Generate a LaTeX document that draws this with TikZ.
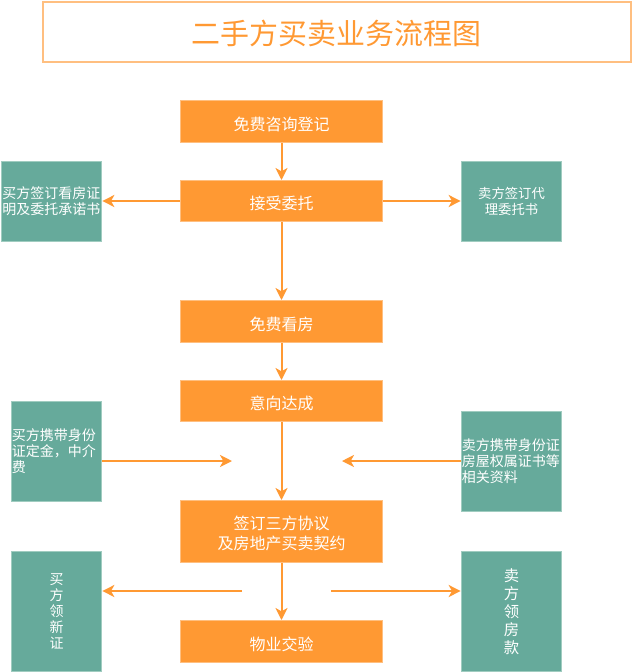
\documentclass[tikz,border=0pt]{standalone}
\usepackage{fontspec}
\setmainfont{Noto Sans CJK SC}
\usepackage{xcolor}
\usetikzlibrary{arrows.meta,positioning,calc}
\definecolor{accent}{HTML}{FF9933}
\definecolor{accentedge}{HTML}{FFBF80}
\definecolor{accent2}{HTML}{66AA9B}
\definecolor{accent2edge}{HTML}{A0CCC0}
\tikzset{
  titlebox/.style={draw=accentedge,line width=1.5pt,fill=white,text=accent,inner sep=0pt,
    minimum width=441pt,minimum height=45pt,text height=22pt,font=\fontsize{21.7}{26}\selectfont},
  mainbox/.style={draw=accentedge,line width=0.75pt,fill=accent,text=white,inner sep=0pt,
    minimum width=151.5pt,align=center,text height=14pt,font=\fontsize{12}{15}\selectfont},
  sidebox/.style={draw=accent2edge,line width=0.75pt,fill=accent2,text=white,inner sep=0pt,
    minimum width=75.5pt,font=\fontsize{10.5}{12}\selectfont},
  flow/.style={draw=accent,line width=1.5pt,-{Stealth[length=9pt,width=9pt,inset=2.5pt]}},
}
\begin{document}
\begin{tikzpicture}[x=0.75pt,y=-0.75pt]
  \useasboundingbox (0,0) rectangle (632,672);
  % title
  \node[titlebox] (title) at (336.5,31.5) {二手方买卖业务流程图};
  % main column
  \node[mainbox,minimum height=31.5pt] (consult) at (281.5,121.5) {免费咨询登记};
  \node[mainbox,minimum height=30.75pt] (entrust) at (281.5,201) {接受委托};
  \node[mainbox,minimum height=31.5pt] (viewing) at (281.5,321.5) {免费看房};
  \node[mainbox,minimum height=30.75pt] (intent) at (281.5,401) {意向达成};
  \node[mainbox,minimum height=46.5pt,text height=28.6pt] (contract) at (281.5,531.5) {签订三方协议\\及房地产买卖契约};
  \node[mainbox,minimum height=31.5pt] (handover) at (281.5,641.5) {物业交验};
  % side boxes
  \node[sidebox,minimum height=60pt,align=center] (buyview) at (51.5,201.5) {买方签订看房证\\明及委托承诺书};
  \node[sidebox,minimum height=60pt,align=center,font=\fontsize{10}{12}\selectfont] (sellagent) at (511.5,201.5) {卖方签订代\\理委托书};
  \node[sidebox,minimum width=68pt,minimum height=75.5pt,text width=67pt,align=left] (buydoc) at (56.5,451.5) {买方携带身份\\证定金，中介\\费};
  \node[sidebox,minimum height=75pt,text width=74.5pt,align=left] (selldoc) at (511.5,461.5) {卖方携带身份证\\房屋权属证书等\\相关资料};
  \node[sidebox,minimum width=68pt,minimum height=90pt,align=center] (buycert) at (56.5,611.5) {买\\方\\领\\新\\证};
  \node[sidebox,minimum height=90pt,align=center,font=\fontsize{11.5}{13.5}\selectfont] (sellpay) at (511.5,611.5) {卖\\方\\领\\房\\款};
  % free arrow ends
  \coordinate (buyin) at (232,461);
  \coordinate (sellin) at (342,461);
  \coordinate (buyout) at (242,591);
  \coordinate (sellout) at (331,591);
  % connectors
  \draw[flow] (consult) -- (entrust);
  \draw[flow] (entrust) -- (viewing);
  \draw[flow] (viewing) -- (intent);
  \draw[flow] (intent) -- (contract);
  \draw[flow] (contract) -- (handover);
  \draw[flow] (entrust) -- (entrust -| buyview.east);
  \draw[flow] (entrust) -- (entrust -| sellagent.west);
  \draw[flow] (buydoc.east |- buyin) -- (buyin);
  \draw[flow] (selldoc.west |- sellin) -- (sellin);
  \draw[flow] (buyout) -- (buycert.east |- buyout);
  \draw[flow] (sellout) -- (sellpay.west |- sellout);
\end{tikzpicture}
\end{document}
